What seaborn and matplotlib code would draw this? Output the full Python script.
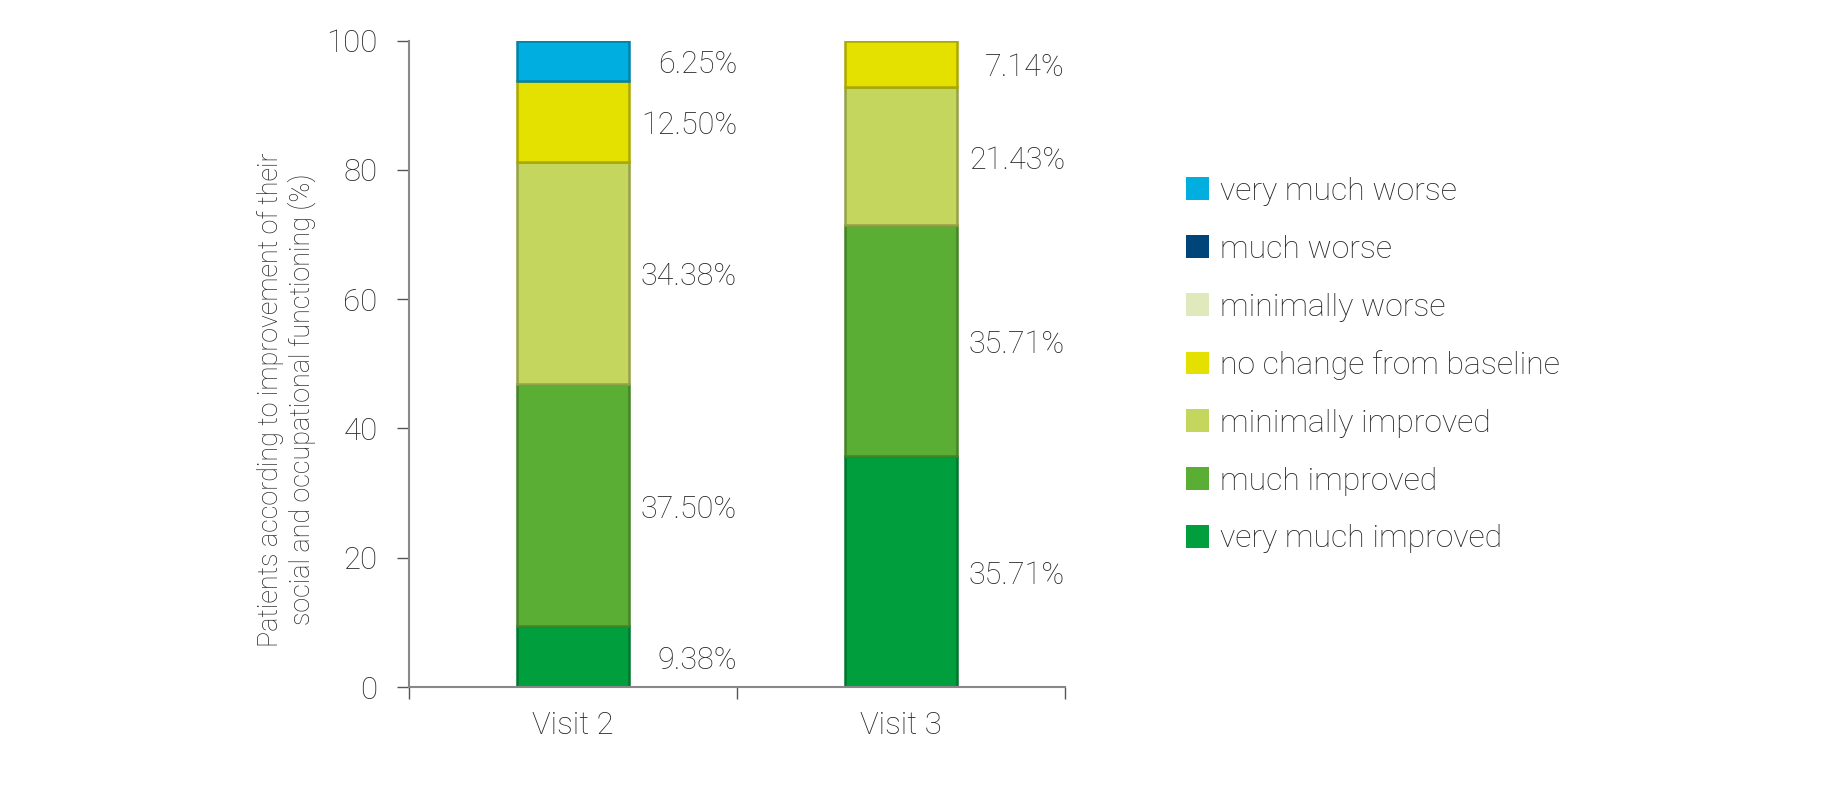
import numpy as np
import pandas as pd
import matplotlib
matplotlib.use("Agg")
import matplotlib.pyplot as plt
import matplotlib.colors as mcolors
from matplotlib.patches import Patch
import seaborn as sns

visits = ["Visit 2", "Visit 3"]
categories = ["very much worse", "much worse", "minimally worse",
              "no change from baseline", "minimally improved",
              "much improved", "very much improved"]
visit2_values = [6.25, 0.0, 0.0, 12.50, 34.38, 37.50, 9.38]
visit3_values = [0.0, 0.0, 0.0, 7.14, 21.43, 35.71, 35.71]
colors = ["#00AEE0", "#00457A", "#E0E9BC", "#E4E000", "#C5D65F", "#5AAE33", "#009E3D"]
y_ticks = [0, 20, 40, 60, 80, 100]
y_label = "Patients according to improvement of their\nsocial and occupational functioning (%)"

sns.set_theme(style="white")
plt.rcParams["font.family"] = ["Roboto", "DejaVu Sans"]
plt.rcParams["font.weight"] = "light"
plt.rcParams["axes.labelweight"] = "light"
TXT = "#262626"

rows = []
for v, vals in zip(visits, [visit2_values, visit3_values]):
    for c, val in zip(categories, vals):
        rows.append({"visit": v, "category": c, "value": val})
df = pd.DataFrame(rows)
df["visit"] = pd.Categorical(df["visit"], categories=visits, ordered=True)

fig = plt.figure(figsize=(18.32, 7.85), dpi=100)
ax = fig.add_axes([0.2233, 0.1248, 0.358, 0.8234])

sns.histplot(data=df, x="visit", hue="category", weights="value",
             hue_order=categories, palette=dict(zip(categories, colors)),
             multiple="stack", discrete=True, shrink=0.34, alpha=1,
             legend=False, ax=ax, linewidth=0)

# darker edges to imitate the shaded borders
for p in ax.patches:
    fc = np.array(mcolors.to_rgb(p.get_facecolor()))
    if p.get_height() > 0:
        p.set_edgecolor(tuple(fc * 0.75))
        p.set_linewidth(1.8)

ax.set_xlim(-0.5, 1.5)
ax.set_ylim(0, 100)
ax.set_yticks(y_ticks)
ax.set_yticklabels([str(t) for t in y_ticks])
ax.set_xticks([0, 1])
ax.set_xticklabels(visits)
ax.set_xticks([-0.5, 0.5, 1.5], minor=True)
ax.tick_params(axis="x", which="major", length=0, pad=17, labelsize=22.5, labelcolor=TXT)
ax.tick_params(axis="x", which="minor", length=8.6, width=1, color="#555555", direction="out", bottom=True)
ax.tick_params(axis="y", which="major", length=8.6, width=1, color="#555555", direction="out",
               pad=14, labelsize=22.5, labelcolor=TXT, left=True)
ax.set_xlabel("")
ax.set_ylabel(y_label, fontsize=19.4, color=TXT, va="center", linespacing=1.15,
              fontweight="light")
ax.yaxis.set_label_coords(-0.1875, 0.445)

for s in ["top", "right"]:
    ax.spines[s].set_visible(False)
for s in ["left", "bottom"]:
    ax.spines[s].set_color("#888888")
    ax.spines[s].set_linewidth(1.5)
ax.grid(False)

# value labels
for i, vals in enumerate([visit2_values, visit3_values]):
    vals_rev = vals[::-1]
    tops = np.cumsum(vals_rev)
    for j, val in enumerate(vals_rev):
        if val > 0:
            center = tops[j] - val / 2
            ax.text(i + 0.5, center - 0.6, f"{val:.2f}%", ha="right", va="center",
                    fontsize=22, color=TXT)

handles = [Patch(facecolor=c, edgecolor="none") for c in colors]
fig.legend(handles, categories, loc="upper left",
           bbox_to_anchor=(1186 / 1832, 1 - 177 / 785), frameon=False,
           fontsize=23, labelcolor=TXT, handlelength=0.72, handleheight=0.72,
           handletextpad=0.35, labelspacing=0.9, borderpad=0, borderaxespad=0)

fig.savefig("out.png", dpi=100)
